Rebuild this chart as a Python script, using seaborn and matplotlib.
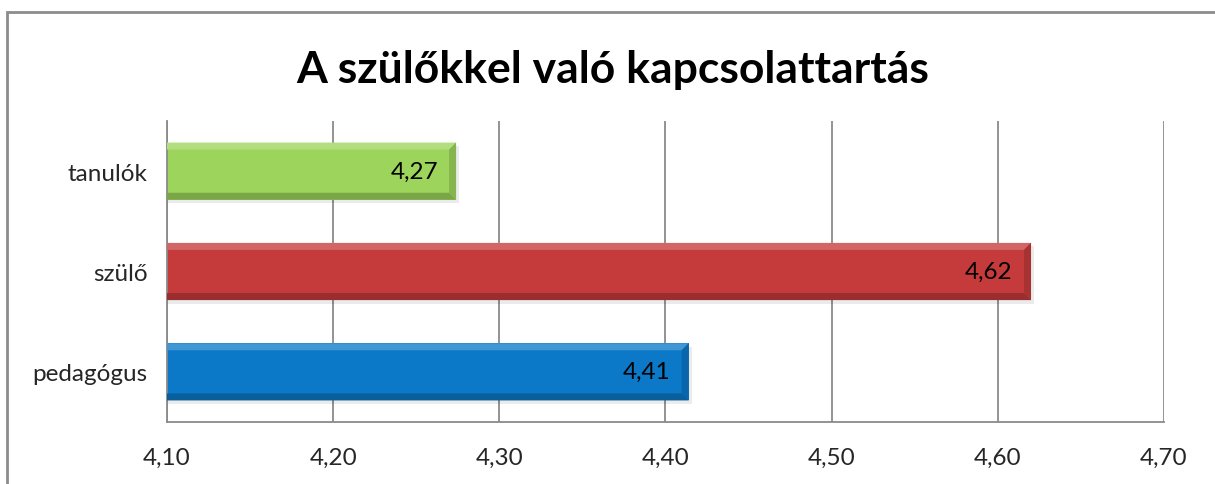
import matplotlib
matplotlib.use("Agg")
import matplotlib.pyplot as plt
import matplotlib.colors as mcolors
from matplotlib.patches import Polygon, Rectangle
import pandas as pd
import seaborn as sns

# chart data
categories = ["tanulók", "szülő", "pedagógus"]
values = [4.274, 4.62, 4.414]
bar_colors = ["#9DD55C", "#C53B3B", "#0B78C8"]
x_ticks = [4.10, 4.20, 4.30, 4.40, 4.50, 4.60, 4.70]

title = "A szülőkkel való kapcsolattartás"

sns.set_theme(style="white")
plt.rcParams["font.family"] = ["Lato", "DejaVu Sans"]

df = pd.DataFrame({"csoport": categories, "ertek": values})

fig = plt.figure(figsize=(12.15, 4.85), dpi=100)
ax = fig.add_axes([0.1374, 0.1278, 0.8206, 0.6207])

# figure border (left/top visible, runs off the right and bottom)
fig.patches.append(Rectangle((7 / 1215, -0.05), 1.1, 1 - 13 / 485 + 0.05,
                             transform=fig.transFigure, fill=False,
                             edgecolor="#8C8C8C", linewidth=2, zorder=0))

# gridlines behind bars
ax.set_axisbelow(True)
ax.xaxis.grid(True, color="#8A8A8A", linewidth=1.3)

sns.barplot(data=df, x="ertek", y="csoport", hue="csoport", palette=bar_colors,
            orient="h", width=0.57, legend=False, ax=ax, saturation=1,
            edgecolor="none", zorder=2)

ax.set_xlim(x_ticks[0], x_ticks[-1])
ax.set_ylim(2.5, -0.5)
ax.set_xticks(x_ticks)
ax.set_xticklabels([f"{t:.2f}".replace(".", ",") for t in x_ticks], fontsize=17.5)
ax.tick_params(axis="y", labelsize=17.5, pad=14, length=0)
ax.tick_params(axis="x", pad=18, length=0)
ax.set_xlabel("")
ax.set_ylabel("")
for s in ["top", "right"]:
    ax.spines[s].set_visible(False)
for s in ["left", "bottom"]:
    ax.spines[s].set_color("#8A8A8A")
    ax.spines[s].set_linewidth(1.3)

# bevel effect on each bar, derived from the drawn patches
fig.canvas.draw()
bbox = ax.get_window_extent()
dx = 7 * (x_ticks[-1] - x_ticks[0]) / bbox.width
dy = 7 * 3.0 / bbox.height
for patch, col in zip(ax.patches, bar_colors):
    x0, y0 = patch.get_x(), patch.get_y()
    w, h = patch.get_width(), patch.get_height()
    x1, y1 = x0 + w, y0 + h
    base = mcolors.to_rgb(col)
    light = tuple(min(1, c + (1 - c) * 0.22) for c in base)
    dark = tuple(c * 0.85 for c in base)
    darker = tuple(c * 0.78 for c in base)
    # soft shadow
    ax.add_patch(Rectangle((x0 + dx * 0.4, y0 + dy * 0.5), w, h, color="#000000",
                           alpha=0.08, zorder=1.5, linewidth=0))
    # top bevel (y axis inverted: y0 is top)
    ax.add_patch(Polygon([(x0, y0), (x1, y0), (x1 - dx, y0 + dy), (x0 + dx, y0 + dy)],
                         closed=True, color=light, zorder=3, linewidth=0))
    # bottom bevel
    ax.add_patch(Polygon([(x0, y1), (x1, y1), (x1 - dx, y1 - dy), (x0 + dx, y1 - dy)],
                         closed=True, color=darker, zorder=3, linewidth=0))
    # left bevel
    ax.add_patch(Polygon([(x0, y0), (x0 + dx, y0 + dy), (x0 + dx, y1 - dy), (x0, y1)],
                         closed=True, color=light, alpha=0.6, zorder=3, linewidth=0))
    # right bevel
    ax.add_patch(Polygon([(x1, y0), (x1 - dx, y0 + dy), (x1 - dx, y1 - dy), (x1, y1)],
                         closed=True, color=dark, zorder=3, linewidth=0))
    ax.text(x1 - dx * 2.6, y0 + h / 2, f"{x1:.2f}".replace(".", ","),
            ha="right", va="center", fontsize=17.5, color="black", zorder=4)

fig.text(0.504, 0.855, title, ha="center", va="center", fontsize=32,
         fontweight="bold", color="black")

fig.savefig("out.png", dpi=100)
